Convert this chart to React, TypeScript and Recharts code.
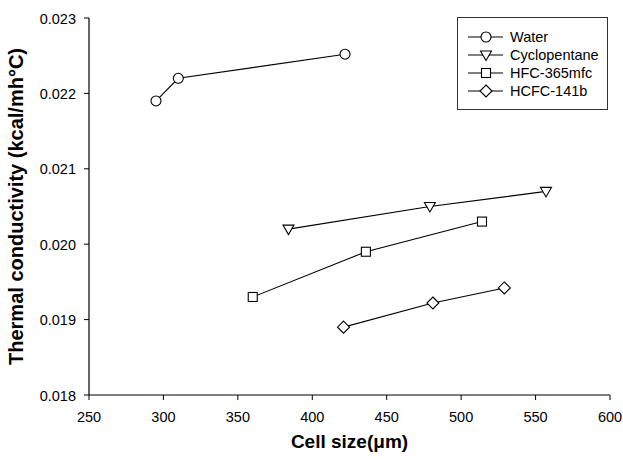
import React from "react";
import {
  ScatterChart,
  Scatter,
  XAxis,
  YAxis,
} from "recharts";

const waterX = [295, 310, 422];
const waterY = [0.0219, 0.0222, 0.02252];
const cycloX = [384, 479, 557];
const cycloY = [0.0202, 0.0205, 0.0207];
const hfcX = [360, 436, 514];
const hfcY = [0.0193, 0.0199, 0.0203];
const hcfcX = [421, 481, 529];
const hcfcY = [0.0189, 0.01922, 0.01942];

const xTicks = [250, 300, 350, 400, 450, 500, 550, 600];
const yTicks = [0.018, 0.019, 0.02, 0.021, 0.022, 0.023];
const yTickLabels = ["0.018", "0.019", "0.020", "0.021", "0.022", "0.023"];

const seriesNames = ["Water", "Cyclopentane", "HFC-365mfc", "HCFC-141b"];
const xTitle = "Cell size(μm)";
const yTitle = "Thermal conductivity (kcal/mh°C)";

const zip = (xs: number[], ys: number[]) => xs.map((x, i) => ({ x, y: ys[i] }));

const FONT = "'Liberation Sans', Arial, Helvetica, sans-serif";

type MarkerKind = "circle" | "tri" | "square" | "diamond";

const Marker = ({ kind, cx, cy }: { kind: MarkerKind; cx: number; cy: number }) => {
  const st = { fill: "#fff", stroke: "#000", strokeWidth: 1.1 };
  if (kind === "circle") return <circle cx={cx} cy={cy} r={5} {...st} />;
  if (kind === "tri")
    return (
      <polygon
        points={`${cx - 5.5},${cy - 4} ${cx + 5.5},${cy - 4} ${cx},${cy + 5.5}`}
        {...st}
      />
    );
  if (kind === "square")
    return <rect x={cx - 4.5} y={cy - 4.5} width={9} height={9} {...st} />;
  return (
    <polygon
      points={`${cx},${cy - 6} ${cx + 6},${cy} ${cx},${cy + 6} ${cx - 6},${cy}`}
      {...st}
    />
  );
};

const makeShape = (kind: MarkerKind) => (props: any) =>
  <Marker kind={kind} cx={props.cx} cy={props.cy} />;

const series: { name: string; data: { x: number; y: number }[]; kind: MarkerKind }[] = [
  { name: seriesNames[0], data: zip(waterX, waterY), kind: "circle" },
  { name: seriesNames[1], data: zip(cycloX, cycloY), kind: "tri" },
  { name: seriesNames[2], data: zip(hfcX, hfcY), kind: "square" },
  { name: seriesNames[3], data: zip(hcfcX, hcfcY), kind: "diamond" },
];

const YTick = (props: any) => {
  const { x, y, payload } = props;
  const idx = yTicks.indexOf(payload.value);
  return (
    <text x={x} y={y} dy={5.5} textAnchor="end" fontSize={14.5} fontFamily={FONT} fill="#000">
      {idx >= 0 ? yTickLabels[idx] : payload.value}
    </text>
  );
};

const XTitle = (props: any) => {
  const vb = props.viewBox || {};
  const cx = (vb.x ?? 89) + (vb.width ?? 521) / 2;
  return (
    <text
      x={cx}
      y={441}
      textAnchor="middle"
      dominantBaseline="central"
      fontSize={19}
      fontWeight="bold"
      fontFamily={FONT}
      fill="#000"
    >
      {xTitle}
    </text>
  );
};

const YTitle = (props: any) => {
  const vb = props.viewBox || {};
  const cy = (vb.y ?? 18) + (vb.height ?? 377) / 2;
  return (
    <text
      transform={`translate(16, ${cy}) rotate(-90)`}
      x={0}
      y={0}
      textAnchor="middle"
      dominantBaseline="central"
      fontSize={20}
      fontWeight="bold"
      fontFamily={FONT}
      fill="#000"
    >
      {yTitle}
    </text>
  );
};

export default function App() {
  return (
    <div style={{ position: "absolute", left: 0, top: 0, width: 623, height: 459, background: "#fff" }}>
      <ScatterChart
        width={623}
        height={459}
        margin={{ top: 18, right: 13, bottom: 0, left: 0 }}
      >
        <XAxis
          xAxisId="top"
          orientation="top"
          type="number"
          dataKey="x"
          domain={[250, 600]}
          height={0}
          tick={false}
          tickLine={false}
          axisLine={{ stroke: "#000", strokeWidth: 1.2 }}
        />
        <YAxis
          yAxisId="right"
          orientation="right"
          type="number"
          dataKey="y"
          domain={[0.018, 0.023]}
          width={0}
          tick={false}
          tickLine={false}
          axisLine={{ stroke: "#000", strokeWidth: 1.2 }}
        />
        <XAxis
          type="number"
          dataKey="x"
          domain={[250, 600]}
          ticks={xTicks}
          allowDataOverflow
          height={64}
          tickSize={5}
          tickMargin={12}
          axisLine={{ stroke: "#000", strokeWidth: 1.2 }}
          tickLine={{ stroke: "#000" }}
          tick={{ fontSize: 14.5, fontFamily: FONT, fill: "#000" }}
          label={{ content: <XTitle /> }}
        />
        <YAxis
          type="number"
          dataKey="y"
          domain={[0.018, 0.023]}
          ticks={yTicks}
          allowDataOverflow
          width={89}
          tickSize={5}
          tickMargin={8}
          axisLine={{ stroke: "#000", strokeWidth: 1.2 }}
          tickLine={{ stroke: "#000" }}
          tick={<YTick />}
          label={{ content: <YTitle /> }}
        />
        {series.map((s) => (
          <Scatter
            key={s.name}
            name={s.name}
            data={s.data}
            line={{ stroke: "#000", strokeWidth: 1.1 }}
            lineType="joint"
            shape={makeShape(s.kind)}
            isAnimationActive={false}
          />
        ))}
      </ScatterChart>
      <div
        style={{
          position: "absolute",
          left: 457,
          top: 17,
          width: 151,
          height: 93,
          boxSizing: "border-box",
          border: "1px solid #333",
          background: "#fff",
          fontFamily: FONT,
          fontSize: 14.5,
          paddingTop: 10,
        }}
      >
        {series.map((s) => (
          <div key={s.name} style={{ display: "flex", alignItems: "center", height: 18 }}>
            <svg width={50} height={18} style={{ flex: "none" }}>
              <line x1={10} y1={9} x2={45} y2={9} stroke="#000" strokeWidth={1.1} />
              <Marker kind={s.kind} cx={28} cy={9} />
            </svg>
            <span style={{ marginLeft: 2, color: "#000", whiteSpace: "nowrap" }}>{s.name}</span>
          </div>
        ))}
      </div>
    </div>
  );
}
